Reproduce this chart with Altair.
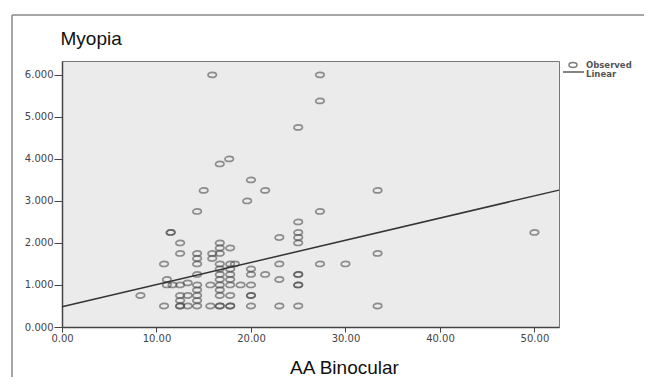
import altair as alt
import pandas as pd

# ---- data ----
obs_x = [8.3,
         10.8, 10.8,
         11.1, 11.1,
         11.5, 11.5,
         11.7,
         12.5, 12.5, 12.5, 12.5, 12.5, 12.5, 12.5,
         13.3, 13.3, 13.3,
         14.3, 14.3, 14.3, 14.3, 14.3, 14.3, 14.3, 14.3, 14.3, 14.3,
         15.0,
         15.9, 15.9, 15.9, 15.7, 15.7,
         16.7, 16.7, 16.7, 16.7, 16.7, 16.7, 16.7, 16.7, 16.7, 16.7, 16.7, 16.7, 16.7,
         17.7,
         17.8, 17.8, 17.8, 17.8, 17.8, 17.8, 17.8, 17.8, 17.8,
         18.3,
         18.9,
         19.6,
         20.0, 20.0, 20.0, 20.0, 20.0, 20.0, 20.0,
         21.5, 21.5,
         23.0, 23.0, 23.0, 23.0,
         25.0, 25.0, 25.0, 25.0, 25.0, 25.0, 25.0, 25.0, 25.0, 25.0,
         27.3, 27.3, 27.3, 27.3,
         30.0,
         33.4, 33.4, 33.4,
         50.0]
obs_y = [0.75,
         1.5, 0.5,
         1.13, 1.0,
         2.25, 2.25,
         1.0,
         2.0, 1.75, 1.0, 0.75, 0.63, 0.5, 0.5,
         1.05, 0.75, 0.5,
         2.75, 1.75, 1.63, 1.5, 1.25, 1.0, 0.88, 0.75, 0.63, 0.5,
         3.25,
         6.0, 1.75, 1.63, 1.0, 0.5,
         3.88, 2.0, 1.88, 1.75, 1.5, 1.38, 1.25, 1.13, 1.0, 0.88, 0.75, 0.5, 0.5,
         4.0,
         1.88, 1.5, 1.38, 1.25, 1.13, 1.0, 0.75, 0.5, 0.5,
         1.5,
         1.0,
         3.0,
         3.5, 1.38, 1.25, 1.0, 0.75, 0.75, 0.5,
         3.25, 1.25,
         2.13, 1.5, 1.13, 0.5,
         4.75, 2.5, 2.25, 2.13, 2.0, 1.25, 1.25, 1.0, 1.0, 0.5,
         6.0, 5.38, 2.75, 1.5,
         1.5,
         3.25, 1.75, 0.5,
         2.25]
fit_intercept = 0.48
fit_slope = 0.0528
x_ticks = [0, 10, 20, 30, 40, 50]
y_ticks = [0, 1, 2, 3, 4, 5, 6]
x_max = 52.6
y_max = 6.33
legend_labels = ["Observed", "Linear"]

# ---- layout / style ----
W, H = 497, 266
ELLIPSE = "M -1 0 A 1 0.6 0 1 1 1 0 A 1 0.6 0 1 1 -1 0 Z"
PT_COLOR = "#444444"

obs = pd.DataFrame({"x": obs_x, "y": obs_y})
fit = pd.DataFrame({"x": [0, x_max],
                    "y": [fit_intercept, fit_intercept + fit_slope * x_max]})

xs = alt.Scale(domain=[0, x_max], nice=False, zero=False)
ys = alt.Scale(domain=[0, y_max], nice=False, zero=False)

x_axis = alt.Axis(values=x_ticks, format=".2f", title="AA Binocular",
                  titleX=282, titleY=46, titleAlign="center",
                  titleBaseline="alphabetic", titleFont="Liberation Sans",
                  titleFontSize=19, titleFontWeight="normal", titleColor="#111111",
                  labelFont="DejaVu Sans", labelFontSize=10, labelColor="#444444",
                  labelPadding=1, tickSize=5, tickColor="#444444",
                  domainColor="#444444", domainWidth=1.5, grid=False,
                  labelFlush=False)
y_axis = alt.Axis(values=y_ticks, format=".3f", title="Myopia",
                  titleAngle=0, titleX=-2, titleY=-17, titleAlign="left",
                  titleBaseline="alphabetic", titleFont="Liberation Sans",
                  titleFontSize=19, titleFontWeight="normal", titleColor="#111111",
                  labelFont="DejaVu Sans", labelFontSize=10, labelColor="#444444",
                  labelPadding=1, tickSize=8, tickColor="#444444",
                  domainColor="#444444", domainWidth=1.5, grid=False,
                  labelFlush=False)

points = alt.Chart(obs).mark_point(
    shape=ELLIPSE, size=72, filled=False, stroke=PT_COLOR,
    strokeWidth=1.7, strokeOpacity=0.8
).encode(
    x=alt.X("x:Q", scale=xs, axis=x_axis),
    y=alt.Y("y:Q", scale=ys, axis=y_axis),
)

line = alt.Chart(fit).mark_line(color="#333333", strokeWidth=1.5).encode(
    x=alt.X("x:Q", scale=xs),
    y=alt.Y("y:Q", scale=ys),
)

one = pd.DataFrame({"a": [0]})
frame_left = alt.Chart(one).mark_rule(color="#888888", strokeWidth=1.5).encode(
    x=alt.value(-50), y=alt.value(-46), y2=alt.value(H + 80))
frame_top = alt.Chart(one).mark_rule(color="#888888", strokeWidth=1.5).encode(
    x=alt.value(-50), x2=alt.value(W + 120), y=alt.value(-46))

leg_obs_sym = alt.Chart(one).mark_point(
    shape=ELLIPSE, size=64, filled=False, stroke=PT_COLOR, strokeWidth=1.5
).encode(x=alt.value(W + 14), y=alt.value(4))
leg_lin_sym = alt.Chart(one).mark_rule(color="#333333", strokeWidth=1.2).encode(
    x=alt.value(W + 4), x2=alt.value(W + 25), y=alt.value(11))

def leg_text(label, ypos):
    return alt.Chart(pd.DataFrame({"label": [label]})).mark_text(
        align="left", baseline="middle", font="DejaVu Sans", fontSize=8.5,
        fontWeight="bold", color="#555555"
    ).encode(text="label:N", x=alt.value(W + 27), y=alt.value(ypos))

chart = alt.layer(
    frame_left, frame_top, points, line, leg_obs_sym, leg_lin_sym,
    leg_text(legend_labels[0], 4), leg_text(legend_labels[1], 12.5)
).properties(
    width=W, height=H,
    autosize=alt.AutoSizeParams(type="none"),
    padding={"left": 54, "top": 53, "right": 85, "bottom": 50},
    background="white",
).configure_view(
    fill="#ebebeb", stroke="#777777", strokeWidth=1
)

chart.save("out.html", embed_options={"renderer": "svg", "actions": False})
